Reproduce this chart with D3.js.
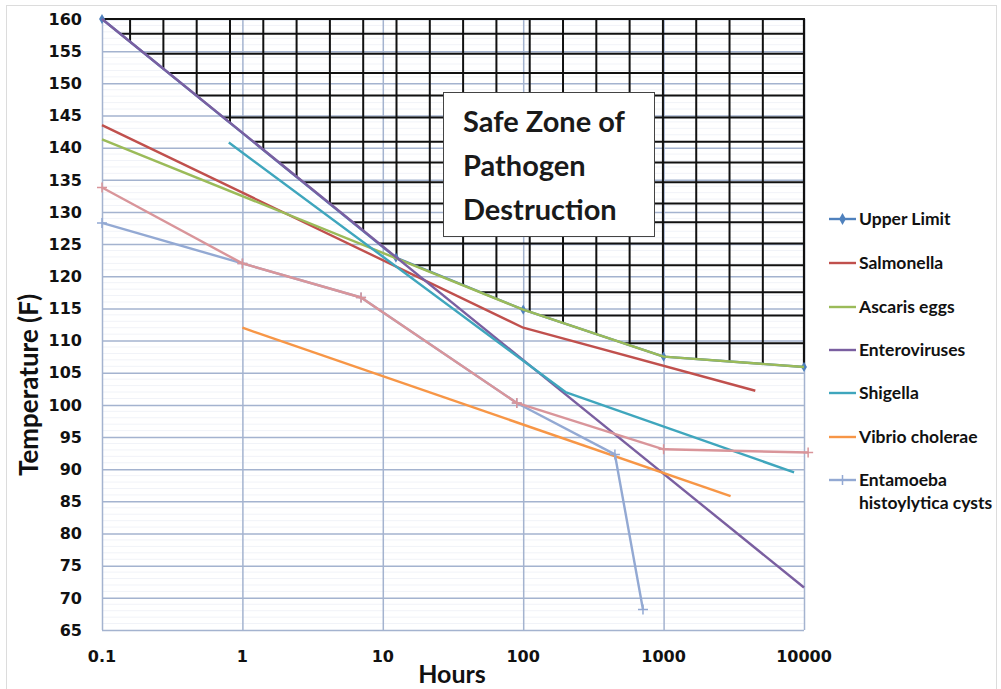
<!DOCTYPE html>
<html>
<head>
<meta charset="utf-8">
<script src="https://cdn.jsdelivr.net/npm/d3@7"></script>
<style>
  html, body { margin: 0; padding: 0; background: #fff; }
  svg { display: block; }
</style>
</head>
<body>
<svg id="chart" width="1001" height="689"></svg>
<script>
// ---------------- data ----------------
const xTickValues = [0.1, 1, 10, 100, 1000, 10000];
const xTickLabels = ["0.1", "1", "10", "100", "1000", "10000"];
const yTickValues = d3.range(65, 161, 5);

const upperLimitHours = [0.1, 12.4, 100, 1000, 10000];
const upperLimitTemps = [160, 122.9, 114.8, 107.5, 105.9];

const salmonellaHours = [0.1, 100, 4500];
const salmonellaTemps = [143.5, 112, 102.2];

const ascarisHours = [0.1, 100, 1000, 10000];
const ascarisTemps = [141.3, 114.8, 107.5, 105.9];

const enteroHours = [0.1, 10000];
const enteroTemps = [160, 71.6];

const shigellaHours = [0.8, 200, 8500];
const shigellaTemps = [140.8, 102, 89.5];

const vibrioHours = [1, 3000];
const vibrioTemps = [112, 85.8];

const entamoebaHours = [0.1, 1, 7, 90, 450, 713];
const entamoebaTemps = [128.3, 122, 116.7, 100.3, 92.3, 68.2];

const extraHours = [0.1, 1, 7, 90, 1000, 10700];
const extraTemps = [133.8, 122, 116.7, 100.3, 93.1, 92.6];

// hand-drawn hatch grid of the safe zone
const hatchTemps = [157.7, 154.6, 151.6, 148.1, 144.7, 140.9, 137.7, 134.6, 131.3, 128.4, 125.1, 121.7, 117.5, 113.9, 109.6];
const hatchLogStart = -0.80, hatchLogStep = 0.2372, hatchCount = 20;

const boxLines = ["Safe Zone of", "Pathogen", "Destruction"];

const series = [
  {name: "Upper Limit", hours: upperLimitHours, temps: upperLimitTemps, color: "#4f81bd", marker: "diamond", legend: true},
  {name: "Salmonella", hours: salmonellaHours, temps: salmonellaTemps, color: "#c0504d", marker: null, legend: true},
  {name: "Ascaris eggs", hours: ascarisHours, temps: ascarisTemps, color: "#9bbb59", marker: null, legend: true},
  {name: "Enteroviruses", hours: enteroHours, temps: enteroTemps, color: "#7a5fa0", marker: null, legend: true},
  {name: "Shigella", hours: shigellaHours, temps: shigellaTemps, color: "#3fa6bd", marker: null, legend: true},
  {name: "Vibrio cholerae", hours: vibrioHours, temps: vibrioTemps, color: "#f79646", marker: null, legend: true},
  {name: "Entamoeba histoylytica cysts", hours: entamoebaHours, temps: entamoebaTemps, color: "#93a9d3", marker: "plus", legend: true},
  {name: "", hours: extraHours, temps: extraTemps, color: "#d9959a", marker: "plus", legend: false}
];

// ---------------- layout ----------------
const svg = d3.select("#chart");
const x = d3.scaleLog().domain([0.1, 10000]).range([102, 804]);
const y = d3.scaleLinear().domain([65, 160]).range([630, 19]);
const tickFont = "'DejaVu Sans', sans-serif";
const textFont = "Lato, 'Open Sans', sans-serif";

// outer frame
svg.append("rect").attr("x", 6.5).attr("y", 5.5).attr("width", 990).attr("height", 700)
  .attr("fill", "none").attr("stroke", "#dcdcdc").attr("stroke-width", 1);

// minor horizontal grid
svg.append("g").selectAll("line").data(d3.range(65, 160, 1).filter(v => v % 5 !== 0)).join("line")
  .attr("x1", x(0.1)).attr("x2", x(10000))
  .attr("y1", d => y(d)).attr("y2", d => y(d))
  .attr("stroke", "#f1f3f8").attr("stroke-width", 1);

// major gridlines
const yAxis = d3.axisLeft(y).tickValues(yTickValues).tickSize(-(x(10000) - x(0.1))).tickFormat("");
svg.append("g").attr("transform", `translate(${x(0.1)},0)`).call(yAxis)
  .call(g => g.select(".domain").remove())
  .call(g => g.selectAll("line").attr("stroke", "#a4b3cf").attr("stroke-width", 1.5));
const xAxis = d3.axisBottom(x).tickValues(xTickValues).tickSize(-(y(65) - y(160))).tickFormat("");
svg.append("g").attr("transform", `translate(0,${y(65)})`).call(xAxis)
  .call(g => g.select(".domain").remove())
  .call(g => g.selectAll("line").attr("stroke", "#a4b3cf").attr("stroke-width", 1.5));

// tick labels
svg.append("g").selectAll("text").data(yTickValues).join("text")
  .attr("x", 82).attr("y", d => y(d)).attr("dy", "0.36em")
  .attr("text-anchor", "end").attr("font-family", tickFont).attr("font-weight", "bold")
  .attr("font-size", 16).attr("fill", "#111").text(d => d);
svg.append("g").selectAll("text").data(xTickValues).join("text")
  .attr("x", d => x(d)).attr("y", 662)
  .attr("text-anchor", "middle").attr("font-family", tickFont).attr("font-weight", "bold")
  .attr("font-size", 16).attr("fill", "#111").text((d, i) => xTickLabels[i]);

// axis titles
svg.append("text").attr("x", 452).attr("y", 683).attr("text-anchor", "middle")
  .attr("font-family", textFont).attr("font-weight", "bold").attr("font-size", 25).attr("fill", "#111")
  .text("Hours");
svg.append("text").attr("transform", "translate(38,385) rotate(-90)")
  .attr("text-anchor", "middle")
  .attr("font-family", textFont).attr("font-weight", "bold").attr("font-size", 26).attr("fill", "#111")
  .text("Temperature (F)");

// hatch safe zone
const boundary = upperLimitHours.map((h, i) => [x(h), y(upperLimitTemps[i])]);
const clipPoly = boundary.concat([[x(10000), y(160)], [x(0.1), y(160)]]);
svg.append("clipPath").attr("id", "safe").append("polygon")
  .attr("points", clipPoly.map(p => p.join(",")).join(" "));
const hatch = svg.append("g").attr("clip-path", "url(#safe)")
  .attr("stroke", "#111").attr("stroke-width", 2);
hatch.selectAll("line.h").data(hatchTemps).join("line").attr("class", "h")
  .attr("x1", x(0.1)).attr("x2", x(10000)).attr("y1", d => y(d)).attr("y2", d => y(d));
hatch.selectAll("line.v").data(d3.range(hatchCount)).join("line").attr("class", "v")
  .attr("x1", k => x(Math.pow(10, hatchLogStart + hatchLogStep * k)))
  .attr("x2", k => x(Math.pow(10, hatchLogStart + hatchLogStep * k)))
  .attr("y1", y(160)).attr("y2", y(65));
// top & right border of hatch
svg.append("line").attr("x1", x(0.1)).attr("x2", x(10000) + 1).attr("y1", y(160)).attr("y2", y(160))
  .attr("stroke", "#111").attr("stroke-width", 2);
svg.append("line").attr("x1", x(10000)).attr("x2", x(10000)).attr("y1", y(160)).attr("y2", y(106))
  .attr("stroke", "#111").attr("stroke-width", 2.2);

// series lines
const line = d3.line().x(d => x(d[0])).y(d => y(d[1]));
series.forEach(s => {
  const pts = s.hours.map((h, i) => [h, s.temps[i]]);
  if (s.marker === "diamond") {
    svg.append("g").selectAll("path").data(pts).join("path")
      .attr("d", d3.symbol(d3.symbolDiamond, 30)())
      .attr("transform", d => `translate(${x(d[0])},${y(d[1])})`)
      .attr("fill", s.color);
  }
  svg.append("path").datum(pts).attr("d", line)
    .attr("fill", "none").attr("stroke", s.color).attr("stroke-width", 2.4)
    .attr("stroke-linejoin", "round");
  if (s.marker === "plus") {
    svg.append("g").selectAll("path").data(pts).join("path")
      .attr("d", "M-5,0H5M0,-5V5")
      .attr("transform", d => `translate(${x(d[0])},${y(d[1])})`)
      .attr("stroke", s.color).attr("stroke-width", 1.5);
  }
});

// text box
svg.append("rect").attr("x", 443.5).attr("y", 92.5).attr("width", 211).attr("height", 144)
  .attr("fill", "#fff").attr("stroke", "#444").attr("stroke-width", 1);
svg.append("g").selectAll("text").data(boxLines).join("text")
  .attr("x", 463).attr("y", (d, i) => 132 + i * 44)
  .attr("font-family", textFont).attr("font-weight", "bold").attr("font-size", 29).attr("fill", "#1a1a1a")
  .text(d => d);

// legend
const legendRows = [219, 263, 307, 350, 393, 437, 480];
const lg = svg.append("g");
series.filter(s => s.legend).forEach((s, i) => {
  const ly = legendRows[i];
  lg.append("line").attr("x1", 829).attr("x2", 856).attr("y1", ly).attr("y2", ly)
    .attr("stroke", s.color).attr("stroke-width", 2.4);
  if (s.marker === "diamond") {
    lg.append("path").attr("d", d3.symbol(d3.symbolDiamond, 40)())
      .attr("transform", `translate(842.5,${ly})`).attr("fill", s.color);
  } else if (s.marker === "plus") {
    lg.append("path").attr("d", "M-5,0H5M0,-5V5")
      .attr("transform", `translate(842.5,${ly})`).attr("stroke", s.color).attr("stroke-width", 1.5);
  }
  const words = s.name === "Entamoeba histoylytica cysts" ? ["Entamoeba", "histoylytica cysts"] : [s.name];
  words.forEach((w, j) => {
    lg.append("text").attr("x", 859).attr("y", ly + j * 23).attr("dy", "0.35em")
      .attr("font-family", textFont).attr("font-weight", "bold").attr("font-size", 17.5).attr("fill", "#111")
      .text(w);
  });
});
</script>
</body>
</html>
